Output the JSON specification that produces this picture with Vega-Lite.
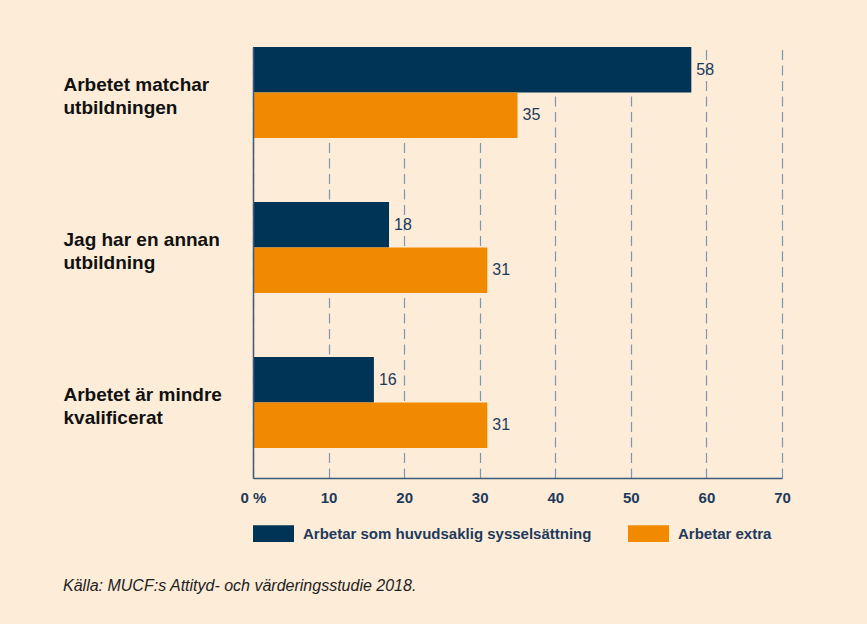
{
  "$schema": "https://vega.github.io/schema/vega-lite/v6.json",
  "autosize": {"type": "none"},
  "padding": {"left": 253, "top": 47, "right": 85, "bottom": 146},
  "width": 529,
  "height": 431,
  "title": {
    "text": "Källa: MUCF:s Attityd- och värderingsstudie 2018.",
    "orient": "bottom",
    "anchor": "start",
    "frame": "group",
    "dx": -190,
    "offset": 36,
    "fontSize": 16,
    "fontStyle": "italic",
    "fontWeight": "normal",
    "color": "#222222",
    "font": "Liberation Sans"
  },
  "data": {
    "values": [
      {"grupp": "Arbetet matchar|utbildningen", "serie": "Arbetar som huvudsaklig sysselsättning", "varde": 58},
      {"grupp": "Arbetet matchar|utbildningen", "serie": "Arbetar extra", "varde": 35},
      {"grupp": "Jag har en annan|utbildning", "serie": "Arbetar som huvudsaklig sysselsättning", "varde": 18},
      {"grupp": "Jag har en annan|utbildning", "serie": "Arbetar extra", "varde": 31},
      {"grupp": "Arbetet är mindre|kvalificerat", "serie": "Arbetar som huvudsaklig sysselsättning", "varde": 16},
      {"grupp": "Arbetet är mindre|kvalificerat", "serie": "Arbetar extra", "varde": 31}
    ]
  },
  "encoding": {
    "y": {
      "field": "grupp",
      "type": "nominal",
      "sort": null,
      "scale": {"paddingInner": 0.413, "paddingOuter": 0.0968, "align": 0},
      "axis": {
        "title": null,
        "ticks": false,
        "tickSize": 0,
        "labelAlign": "left",
        "labelBaseline": "middle",
        "labelPadding": 190,
        "labelOffset": -7,
        "labelLimit": 250,
        "labelFontSize": 19,
        "labelFontWeight": "bold",
        "labelColor": "#111111",
        "labelLineHeight": 23,
        "labelExpr": "split(datum.value, '|')",
        "domainColor": "#3d5b78",
        "domainWidth": 1.5,
        "zindex": 1
      }
    },
    "yOffset": {
      "field": "serie",
      "type": "nominal",
      "sort": ["Arbetar som huvudsaklig sysselsättning", "Arbetar extra"],
      "scale": {"paddingInner": 0, "paddingOuter": 0}
    },
    "x": {
      "field": "varde",
      "type": "quantitative",
      "scale": {"domain": [0, 70], "nice": false},
      "axis": {
        "title": null,
        "values": [0, 10, 20, 30, 40, 50, 60, 70],
        "labelExpr": "datum.value == 0 ? '0 %' : datum.label",
        "ticks": false,
        "tickSize": 0,
        "labelPadding": 12,
        "labelFontSize": 15,
        "labelFontWeight": "bold",
        "labelColor": "#1d3a5c",
        "labelFlush": false,
        "domainColor": "#3d5b78",
        "domainWidth": 1.5,
        "grid": true,
        "gridColor": "#7d97b3",
        "gridWidth": 1.2,
        "gridDash": [10, 5.5]
      }
    }
  },
  "layer": [
    {
      "mark": {"type": "bar"},
      "encoding": {
        "color": {
          "field": "serie",
          "type": "nominal",
          "sort": ["Arbetar som huvudsaklig sysselsättning", "Arbetar extra"],
          "scale": {"domain": ["Arbetar som huvudsaklig sysselsättning", "Arbetar extra"], "range": ["#003457", "#f28a00"]},
          "legend": {
            "orient": "none",
            "legendX": 0,
            "legendY": 466,
            "direction": "horizontal",
            "title": null,
            "symbolType": "M-1,-0.41H1V0.41H-1Z",
            "symbolSize": 1681,
            "symbolStrokeWidth": 0,
            "symbolOpacity": 1,
            "labelOffset": 9,
            "labelFontSize": 15,
            "labelFontWeight": "bold",
            "labelColor": "#1d3a5c",
            "labelLimit": 400,
            "columnPadding": 36,
            "padding": 0
          }
        }
      }
    },
    {
      "mark": {"type": "text", "align": "left", "baseline": "middle", "dx": 5, "fontSize": 16, "color": "#1d3a5c"},
      "encoding": {
        "text": {"field": "varde", "type": "quantitative"}
      }
    }
  ],
  "config": {
    "background": "#fdecd8",
    "view": {"stroke": null},
    "font": "Liberation Sans"
  }
}
